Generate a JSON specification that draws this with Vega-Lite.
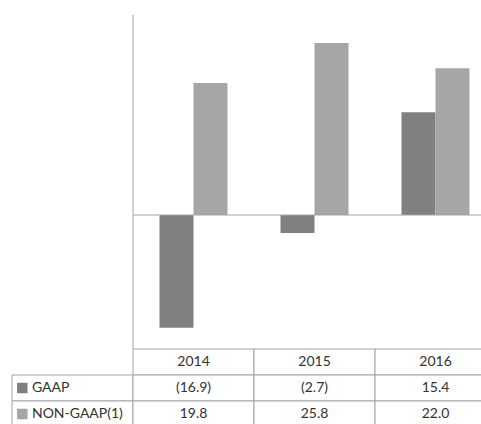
{
  "$schema": "https://vega.github.io/schema/vega-lite/v6.json",
  "width": 481,
  "height": 424,
  "autosize": {"type": "none"},
  "padding": 0,
  "background": "white",
  "config": {"view": {"stroke": null}, "font": "Lato"},
  "datasets": {
    "bars": [
      {"year": "2014", "series": "GAAP", "value": -16.9},
      {"year": "2014", "series": "NON-GAAP(1)", "value": 19.8},
      {"year": "2015", "series": "GAAP", "value": -2.7},
      {"year": "2015", "series": "NON-GAAP(1)", "value": 25.8},
      {"year": "2016", "series": "GAAP", "value": 15.4},
      {"year": "2016", "series": "NON-GAAP(1)", "value": 22.0}
    ],
    "cells": [
      {"col": "2014", "row": "year", "text": "2014"},
      {"col": "2015", "row": "year", "text": "2015"},
      {"col": "2016", "row": "year", "text": "2016"},
      {"col": "", "row": "GAAP", "text": "GAAP"},
      {"col": "2014", "row": "GAAP", "text": "(16.9)"},
      {"col": "2015", "row": "GAAP", "text": "(2.7)"},
      {"col": "2016", "row": "GAAP", "text": "15.4"},
      {"col": "", "row": "NON-GAAP(1)", "text": "NON-GAAP(1)"},
      {"col": "2014", "row": "NON-GAAP(1)", "text": "19.8"},
      {"col": "2015", "row": "NON-GAAP(1)", "text": "25.8"},
      {"col": "2016", "row": "NON-GAAP(1)", "text": "22.0"}
    ],
    "one": [{}]
  },
  "resolve": {"scale": {"y": "independent"}},
  "layer": [
    {
      "data": {"name": "cells"},
      "mark": {"type": "rect", "fill": "white", "stroke": "#a3a3a3", "strokeWidth": 1},
      "encoding": {
        "x": {"field": "col", "type": "nominal", "axis": null,
              "scale": {"domain": ["", "2014", "2015", "2016", "end"], "range": [12, 617], "paddingInner": 0, "paddingOuter": 0}},
        "y": {"field": "row", "type": "nominal", "axis": null,
              "scale": {"domain": ["year", "GAAP", "NON-GAAP(1)"], "range": [349, 427], "paddingInner": 0, "paddingOuter": 0}}
      }
    },
    {
      "data": {"name": "one"},
      "mark": {"type": "rule", "color": "#a3a3a3", "strokeWidth": 1},
      "encoding": {
        "x": {"datum": "2014", "type": "nominal", "bandPosition": 0, "axis": null,
              "scale": {"domain": ["", "2014", "2015", "2016", "end"], "range": [12, 617], "paddingInner": 0, "paddingOuter": 0}},
        "y": {"datum": -20.1, "type": "quantitative", "axis": null,
              "scale": {"domain": [-20.1, 30], "range": [349, 15], "nice": false, "zero": false}},
        "y2": {"datum": 30}
      }
    },
    {
      "data": {"name": "bars"},
      "mark": {"type": "bar"},
      "encoding": {
        "x": {"field": "year", "type": "nominal", "axis": null,
              "scale": {"domain": ["", "2014", "2015", "2016", "end"], "range": [12, 617], "paddingInner": 0, "paddingOuter": 0}},
        "xOffset": {"field": "series", "type": "nominal",
                    "scale": {"domain": ["GAAP", "NON-GAAP(1)"], "paddingInner": 0, "paddingOuter": 0.78}},
        "y": {"field": "value", "type": "quantitative", "axis": null,
              "scale": {"domain": [-20.1, 30], "range": [349, 15], "nice": false, "zero": false}},
        "y2": {"datum": 0},
        "color": {"field": "series", "type": "nominal", "legend": null,
                  "scale": {"domain": ["GAAP", "NON-GAAP(1)"], "range": ["#808080", "#a6a6a6"]}}
      }
    },
    {
      "data": {"name": "one"},
      "mark": {"type": "rule", "color": "#a3a3a3", "strokeWidth": 1},
      "encoding": {
        "x": {"datum": "2014", "type": "nominal", "bandPosition": 0, "axis": null,
              "scale": {"domain": ["", "2014", "2015", "2016", "end"], "range": [12, 617], "paddingInner": 0, "paddingOuter": 0}},
        "x2": {"datum": "end"},
        "y": {"datum": 0, "type": "quantitative", "axis": null,
              "scale": {"domain": [-20.1, 30], "range": [349, 15], "nice": false, "zero": false}}
      }
    },
    {
      "data": {"name": "cells"},
      "transform": [{"filter": "datum.col !== ''"}],
      "mark": {"type": "text", "fontSize": 14, "color": "#333333", "baseline": "middle", "align": "center"},
      "encoding": {
        "x": {"field": "col", "type": "nominal", "axis": null,
              "scale": {"domain": ["", "2014", "2015", "2016", "end"], "range": [12, 617], "paddingInner": 0, "paddingOuter": 0}},
        "y": {"field": "row", "type": "nominal", "axis": null,
              "scale": {"domain": ["year", "GAAP", "NON-GAAP(1)"], "range": [349, 427], "paddingInner": 0, "paddingOuter": 0}},
        "text": {"field": "text"}
      }
    },
    {
      "data": {"name": "cells"},
      "transform": [{"filter": "datum.col === ''"}],
      "mark": {"type": "text", "fontSize": 14, "color": "#333333", "baseline": "middle", "align": "left"},
      "encoding": {
        "x": {"field": "col", "type": "nominal", "bandPosition": 0.165, "axis": null,
              "scale": {"domain": ["", "2014", "2015", "2016", "end"], "range": [12, 617], "paddingInner": 0, "paddingOuter": 0}},
        "y": {"field": "row", "type": "nominal", "axis": null,
              "scale": {"domain": ["year", "GAAP", "NON-GAAP(1)"], "range": [349, 427], "paddingInner": 0, "paddingOuter": 0}},
        "text": {"field": "text"}
      }
    },
    {
      "data": {"name": "cells"},
      "transform": [{"filter": "datum.col === ''"}],
      "mark": {"type": "point", "shape": "square", "filled": true, "opacity": 1, "size": 110},
      "encoding": {
        "x": {"field": "col", "type": "nominal", "bandPosition": 0.085, "axis": null,
              "scale": {"domain": ["", "2014", "2015", "2016", "end"], "range": [12, 617], "paddingInner": 0, "paddingOuter": 0}},
        "y": {"field": "row", "type": "nominal", "axis": null,
              "scale": {"domain": ["year", "GAAP", "NON-GAAP(1)"], "range": [349, 427], "paddingInner": 0, "paddingOuter": 0}},
        "color": {"field": "row", "type": "nominal", "legend": null,
                  "scale": {"domain": ["GAAP", "NON-GAAP(1)"], "range": ["#808080", "#a6a6a6"]}}
      }
    }
  ]
}
